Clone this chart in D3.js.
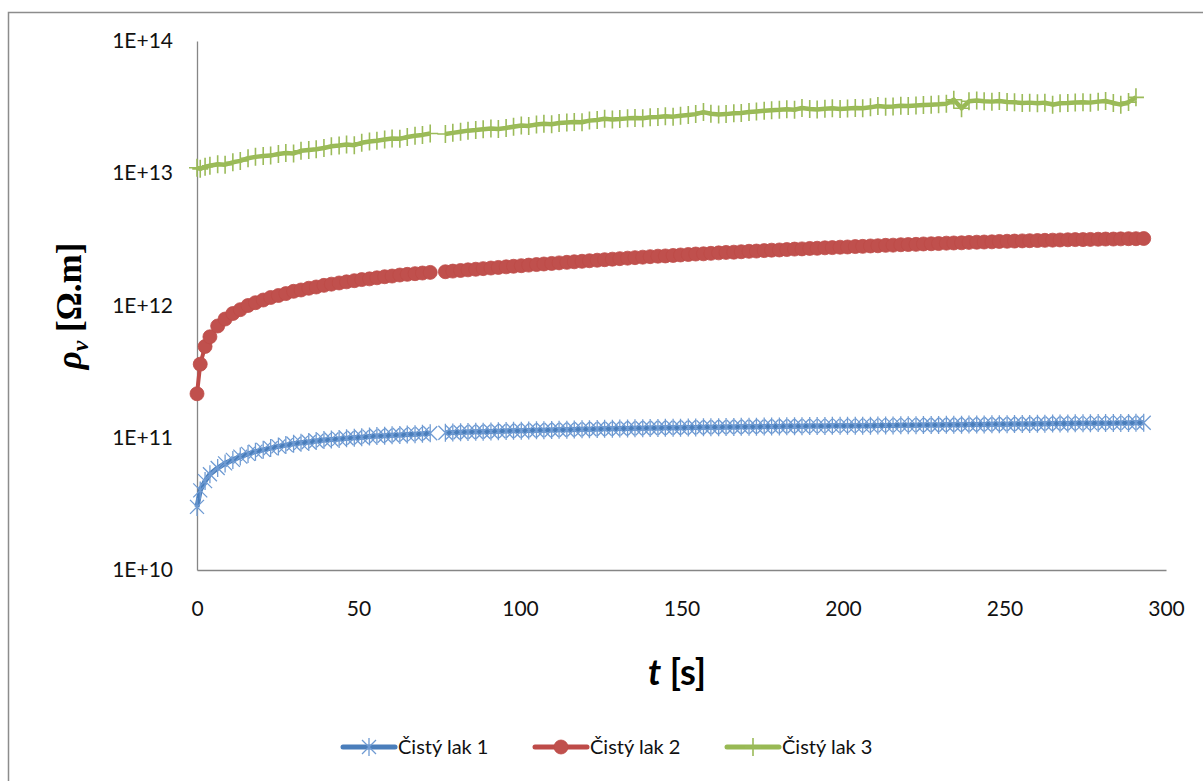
<!DOCTYPE html>
<html>
<head>
<meta charset="utf-8">
<script src="https://cdnjs.cloudflare.com/ajax/libs/d3/7.8.5/d3.min.js"></script>
<style>
  body { margin: 0; background: #fff; }
  .tick text { font-family: Lato, "Open Sans", sans-serif; font-size: 21px; fill: #111; }
</style>
</head>
<body>
<script>
// time [s]
var times = [
  0, 1, 2.5, 4, 6.4, 8.7, 11.1, 13.4, 15.8, 18.1,
  20.5, 22.8, 25.2, 27.5, 29.9, 32.2, 34.6, 36.9, 39.3, 41.6,
  44.0, 46.3, 48.7, 51.0, 53.4, 55.7, 58.1, 60.4, 62.8, 65.1,
  67.5, 69.8, 72.2, 74.5, 76.9, 79.2, 81.6, 83.9, 86.3, 88.6,
  91.0, 93.3, 95.7, 98.0, 100.4, 102.7, 105.1, 107.4, 109.8, 112.1,
  114.5, 116.8, 119.2, 121.5, 123.9, 126.2, 128.6, 130.9, 133.3, 135.6,
  138.0, 140.3, 142.7, 145.0, 147.4, 149.7, 152.1, 154.4, 156.8, 159.1,
  161.5, 163.8, 166.2, 168.5, 170.9, 173.2, 175.6, 177.9, 180.3, 182.6,
  185.0, 187.3, 189.7, 192.0, 194.4, 196.7, 199.1, 201.4, 203.8, 206.1,
  208.5, 210.8, 213.2, 215.5, 217.9, 220.2, 222.6, 224.9, 227.3, 229.6,
  232.0, 234.3, 236.7, 239.0, 241.4, 243.7, 246.1, 248.4, 250.8, 253.1,
  255.5, 257.8, 260.2, 262.5, 264.9, 267.2, 269.6, 271.9, 274.3, 276.6,
  279.0, 281.3, 283.7, 286.0, 288.4, 290.7, 293.1
];

// Čistý lak 1 [Ω.m]
var lak1 = [
  3.0e10, 4.0e10, 4.7e10, 5.3e10, 5.9e10, 6.4e10, 6.8e10, 7.2e10, 7.55e10, 7.85e10,
  8.1e10, 8.35e10, 8.6e10, 8.8e10, 9.0e10, 9.15e10, 9.3e10, 9.45e10, 9.6e10, 9.7e10,
  9.8e10, 9.9e10, 1.0e11, 1.01e11, 1.02e11, 1.03e11, 1.035e11, 1.045e11, 1.05e11, 1.06e11,
  1.065e11, 1.07e11, 1.08e11, null, 1.09e11, 1.095e11, 1.1e11, 1.105e11, 1.11e11, 1.11e11,
  1.115e11, 1.12e11, 1.125e11, 1.13e11, 1.13e11, 1.135e11, 1.14e11, 1.14e11, 1.145e11, 1.15e11,
  1.15e11, 1.155e11, 1.16e11, 1.16e11, 1.165e11, 1.17e11, 1.17e11, 1.175e11, 1.175e11, 1.18e11,
  1.18e11, 1.185e11, 1.185e11, 1.19e11, 1.19e11, 1.19e11, 1.195e11, 1.195e11, 1.2e11, 1.2e11,
  1.2e11, 1.205e11, 1.205e11, 1.21e11, 1.21e11, 1.21e11, 1.215e11, 1.215e11, 1.215e11, 1.22e11,
  1.22e11, 1.22e11, 1.225e11, 1.225e11, 1.225e11, 1.23e11, 1.23e11, 1.23e11, 1.235e11, 1.235e11,
  1.235e11, 1.24e11, 1.24e11, 1.24e11, 1.245e11, 1.245e11, 1.245e11, 1.25e11, 1.25e11, 1.25e11,
  1.255e11, 1.255e11, 1.255e11, 1.26e11, 1.26e11, 1.26e11, 1.265e11, 1.265e11, 1.265e11, 1.27e11,
  1.27e11, 1.27e11, 1.275e11, 1.275e11, 1.28e11, 1.28e11, 1.28e11, 1.285e11, 1.285e11, 1.285e11,
  1.29e11, 1.29e11, 1.29e11, 1.295e11, 1.295e11, 1.3e11, 1.3e11
];

// Čistý lak 2 [Ω.m]
var lak2 = [
  2.15e11, 3.6e11, 4.9e11, 5.8e11, 7.0e11, 7.9e11, 8.7e11, 9.3e11, 1.0e12, 1.05e12,
  1.1e12, 1.15e12, 1.19e12, 1.23e12, 1.28e12, 1.31e12, 1.35e12, 1.38e12, 1.42e12, 1.45e12,
  1.48e12, 1.51e12, 1.54e12, 1.57e12, 1.59e12, 1.62e12, 1.65e12, 1.67e12, 1.7e12, 1.72e12,
  1.74e12, 1.76e12, 1.78e12, null, 1.8e12, 1.82e12, 1.84e12, 1.86e12, 1.88e12, 1.9e12,
  1.92e12, 1.94e12, 1.96e12, 1.98e12, 2.0e12, 2.02e12, 2.04e12, 2.06e12, 2.08e12, 2.1e12,
  2.12e12, 2.14e12, 2.16e12, 2.18e12, 2.2e12, 2.22e12, 2.24e12, 2.26e12, 2.28e12, 2.3e12,
  2.32e12, 2.34e12, 2.36e12, 2.37e12, 2.39e12, 2.41e12, 2.43e12, 2.45e12, 2.46e12, 2.48e12,
  2.5e12, 2.52e12, 2.53e12, 2.55e12, 2.57e12, 2.58e12, 2.6e12, 2.62e12, 2.63e12, 2.65e12,
  2.67e12, 2.68e12, 2.7e12, 2.71e12, 2.73e12, 2.74e12, 2.76e12, 2.77e12, 2.79e12, 2.8e12,
  2.82e12, 2.83e12, 2.85e12, 2.86e12, 2.88e12, 2.89e12, 2.9e12, 2.92e12, 2.93e12, 2.94e12,
  2.96e12, 2.97e12, 2.98e12, 3.0e12, 3.01e12, 3.02e12, 3.03e12, 3.05e12, 3.06e12, 3.07e12,
  3.08e12, 3.09e12, 3.1e12, 3.11e12, 3.12e12, 3.13e12, 3.14e12, 3.15e12, 3.15e12, 3.16e12,
  3.17e12, 3.18e12, 3.18e12, 3.19e12, 3.2e12, 3.2e12, 3.21e12
];

// Čistý lak 3 [Ω.m]
var lak3 = [
  1.1e13, 1.08e13, 1.12e13, 1.14e13, 1.17e13, 1.16e13, 1.21e13, 1.24e13, 1.3e13, 1.33e13,
  1.35e13, 1.36e13, 1.4e13, 1.42e13, 1.41e13, 1.48e13, 1.5e13, 1.52e13, 1.55e13, 1.6e13,
  1.62e13, 1.65e13, 1.63e13, 1.7e13, 1.74e13, 1.76e13, 1.8e13, 1.83e13, 1.82e13, 1.88e13,
  1.92e13, 1.95e13, 2.0e13, null, 1.98e13, 2.02e13, 2.06e13, 2.1e13, 2.12e13, 2.15e13,
  2.18e13, 2.16e13, 2.2e13, 2.25e13, 2.3e13, 2.28e13, 2.34e13, 2.37e13, 2.35e13, 2.4e13,
  2.42e13, 2.44e13, 2.43e13, 2.5e13, 2.53e13, 2.58e13, 2.55e13, 2.57e13, 2.6e13, 2.62e13,
  2.61e13, 2.65e13, 2.66e13, 2.7e13, 2.68e13, 2.72e13, 2.76e13, 2.8e13, 2.9e13, 2.82e13,
  2.78e13, 2.8e13, 2.84e13, 2.86e13, 2.9e13, 2.93e13, 2.97e13, 3.0e13, 3.02e13, 3.05e13,
  3.02e13, 3.12e13, 3.06e13, 3.04e13, 3.08e13, 3.1e13, 3.06e13, 3.09e13, 3.12e13, 3.1e13,
  3.15e13, 3.22e13, 3.18e13, 3.2e13, 3.24e13, 3.22e13, 3.25e13, 3.28e13, 3.3e13, 3.32e13,
  3.36e13, 3.6e13, 3.1e13, 3.5e13, 3.55e13, 3.5e13, 3.48e13, 3.52e13, 3.46e13, 3.44e13,
  3.4e13, 3.42e13, 3.38e13, 3.42e13, 3.3e13, 3.38e13, 3.4e13, 3.43e13, 3.44e13, 3.42e13,
  3.48e13, 3.52e13, 3.4e13, 3.3e13, 3.45e13, 3.75e13, null
];

var seriesNames = ["Čistý lak 1", "Čistý lak 2", "Čistý lak 3"];
var xTicks = [0, 50, 100, 150, 200, 250, 300];
var yTicks = [1e10, 1e11, 1e12, 1e13, 1e14];

// SVG area
var svgWidth = 1203;
var svgHeight = 781;

var margin = { top: 41, right: 37, bottom: 211, left: 197 };
var width = svgWidth - margin.left - margin.right;   // 969
var height = svgHeight - margin.top - margin.bottom; // 529

var svg = d3.select("body")
  .append("svg")
  .attr("width", svgWidth)
  .attr("height", svgHeight)
  .style("display", "block");

svg.append("rect")
  .attr("width", svgWidth)
  .attr("height", svgHeight)
  .attr("fill", "#fff");

// chart frame (runs off the right / bottom edge)
svg.append("rect")
  .attr("x", 8.5)
  .attr("y", 12.5)
  .attr("width", 1200)
  .attr("height", 800)
  .attr("fill", "none")
  .attr("stroke", "#8c8c8c")
  .attr("stroke-width", 1.5);

var chartGroup = svg.append("g")
  .attr("transform", `translate(${margin.left}, ${margin.top})`);

// scales
var xLinearScale = d3.scaleLinear()
  .domain([0, 300])
  .range([0, width]);

var yLogScale = d3.scaleLog()
  .domain([1e10, 1e14])
  .range([height, 0]);

// axes
var bottomAxis = d3.axisBottom(xLinearScale)
  .tickValues(xTicks)
  .tickSize(0)
  .tickPadding(31)
  .tickFormat(d3.format("d"));

var leftAxis = d3.axisLeft(yLogScale)
  .tickValues(yTicks)
  .tickSize(0)
  .tickPadding(24)
  .tickFormat(d => "1E+" + Math.round(Math.log10(d)));

var xAxis = chartGroup.append("g")
  .attr("transform", `translate(0, ${height})`)
  .call(bottomAxis);

var yAxis = chartGroup.append("g")
  .call(leftAxis);

xAxis.select(".domain").attr("stroke", "#868686").attr("stroke-width", 1.3);
yAxis.select(".domain").attr("stroke", "#868686").attr("stroke-width", 1.3);

// series
var series = [
  { name: seriesNames[0], values: lak1, color: "#4a7ebb", mark: "#6f9bd3", width: 5 },
  { name: seriesNames[1], values: lak2, color: "#be4b48", mark: "#c0504d", width: 4 },
  { name: seriesNames[2], values: lak3, color: "#98b954", mark: "#9bbb59", width: 4.5 }
];

var line = d3.line()
  .defined(d => d.v != null)
  .x(d => xLinearScale(d.t))
  .y(d => yLogScale(d.v));

// draws one marker of the given series type at (0,0) in group g
function drawMarker(g, i, s) {
  if (i === 0) {
    g.append("path")
      .attr("d", "M-7,-7L7,7M-7,7L7,-7M0,-9L0,9")
      .attr("stroke", s.mark)
      .attr("stroke-width", 1.3)
      .attr("fill", "none");
  } else if (i === 1) {
    g.append("circle")
      .attr("r", 7)
      .attr("fill", s.mark)
      .attr("stroke", s.color)
      .attr("stroke-width", 0.8);
  } else {
    g.append("path")
      .attr("d", "M-8,0L8,0M0,-9L0,9")
      .attr("stroke", s.mark)
      .attr("stroke-width", 1.6)
      .attr("fill", "none");
  }
}

series.forEach(function(s, i) {
  var pts = times.map((t, j) => ({ t: t, v: s.values[j] }));

  chartGroup.append("path")
    .datum(pts)
    .attr("d", line)
    .attr("fill", "none")
    .attr("stroke", s.color)
    .attr("stroke-width", s.width)
    .attr("stroke-linejoin", "round");

  chartGroup.selectAll(".m" + i)
    .data(pts.filter(d => d.v != null))
    .enter()
    .append("g")
    .attr("class", "m" + i)
    .attr("transform", d => `translate(${xLinearScale(d.t)}, ${yLogScale(d.v)})`)
    .each(function() { drawMarker(d3.select(this), i, s); });
});

// y axis title: ρv [Ω.m]
var yTitle = svg.append("text")
  .attr("transform", "translate(81, 306) rotate(-90)")
  .attr("text-anchor", "middle")
  .style("font-family", "'Liberation Serif', 'DejaVu Serif', serif")
  .style("font-size", "35px")
  .style("font-weight", "bold")
  .attr("fill", "#000");
yTitle.append("tspan").style("font-style", "italic").text("ρ");
yTitle.append("tspan").style("font-style", "italic").style("font-size", "24px")
  .attr("dy", 7).text("v");
yTitle.append("tspan").attr("dy", -7).text(" [Ω.m]");

// x axis title: t [s]
var xTitle = svg.append("text")
  .attr("x", 677)
  .attr("y", 685)
  .attr("text-anchor", "middle")
  .style("font-family", "Lato, 'Open Sans', sans-serif")
  .style("font-size", "36px")
  .style("font-weight", "bold")
  .attr("fill", "#000");
xTitle.append("tspan").style("font-style", "italic").text("t");
xTitle.append("tspan").text(" [s]");

// legend
var legendX = [343, 535, 727];
var legend = svg.append("g");
series.forEach(function(s, i) {
  var lg = legend.append("g").attr("transform", `translate(${legendX[i]}, 747)`);
  lg.append("line")
    .attr("x1", 0).attr("x2", 52)
    .attr("stroke", s.color)
    .attr("stroke-width", 5)
    .attr("stroke-linecap", "round");
  drawMarker(lg.append("g").attr("transform", "translate(26, 0)"), i, s);
  lg.append("text")
    .attr("x", 55)
    .attr("dy", "0.35em")
    .style("font-family", "Lato, 'Open Sans', sans-serif")
    .style("font-size", "20px")
    .attr("fill", "#111")
    .text(s.name);
});
</script>
</body>
</html>
